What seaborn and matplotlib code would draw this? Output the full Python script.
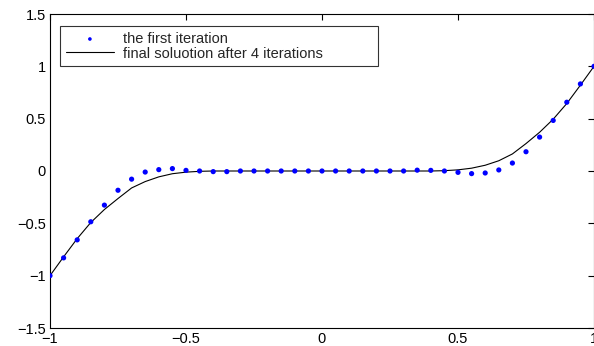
import matplotlib
matplotlib.use("Agg")
import matplotlib.pyplot as plt
import seaborn as sns
import numpy as np
import pandas as pd
from matplotlib.ticker import FuncFormatter

x_vals = [-1.0, -0.95, -0.9, -0.85, -0.8, -0.75, -0.7, -0.65, -0.6, -0.55, -0.5,
          -0.45, -0.4, -0.35, -0.3, -0.25, -0.2, -0.15, -0.1, -0.05, 0.0,
          0.05, 0.1, 0.15, 0.2, 0.25, 0.3, 0.35, 0.4, 0.45, 0.5,
          0.55, 0.6, 0.65, 0.7, 0.75, 0.8, 0.85, 0.9, 0.95, 1.0]

first_iter = [-1.0, -0.83, -0.658, -0.485, -0.326, -0.184, -0.078, -0.01, 0.013, 0.023, 0.006,
              0.0, -0.006, -0.006, 0.0, 0.0, 0.0, 0.0, 0.0, 0.0, 0.0,
              0.0, 0.0, 0.0, 0.0, 0.0, 0.0, 0.008, 0.006, 0.0, -0.013,
              -0.025, -0.019, 0.01, 0.076, 0.184, 0.324, 0.483, 0.657, 0.832, 1.0]

final_sol = [-1.0, -0.82, -0.646, -0.492, -0.368, -0.263, -0.162, -0.101, -0.056, -0.026, -0.011,
             -0.003, 0.0, 0.0, 0.0, 0.0, 0.0, 0.0, 0.0, 0.0, 0.0,
             0.0, 0.0, 0.0, 0.0, 0.0, 0.0, 0.0, 0.0, 0.003, 0.011,
             0.027, 0.055, 0.098, 0.163, 0.262, 0.37, 0.495, 0.645, 0.82, 1.0]

x_ticks = [-1, -0.5, 0, 0.5, 1]
y_ticks = [-1.5, -1, -0.5, 0, 0.5, 1, 1.5]
label_dots = "the first iteration"
label_line = "final soluotion after 4 iterations"

sns.set_style("white")
plt.rcParams['font.family'] = ['Liberation Sans', 'DejaVu Sans']

df = pd.DataFrame({"x": x_vals, "first": first_iter, "final": final_sol})

W, H = 594, 346
ax_l, ax_b, ax_w, ax_h = 50, 18, 544, 314
fig = plt.figure(figsize=(W / 100, H / 100), dpi=100)
ax = fig.add_axes([ax_l / W, ax_b / H, ax_w / W, ax_h / H])

sns.scatterplot(data=df, x="x", y="first", ax=ax, color="blue", s=14,
                edgecolor="none", marker="o", label=label_dots, zorder=3)
sns.lineplot(data=df, x="x", y="final", ax=ax, color="black", lw=0.8,
             label=label_line, zorder=2)

ax.set_xlim(-1, 1)
ax.set_ylim(-1.5, 1.5)
ax.set_xticks(x_ticks)
ax.set_yticks(y_ticks)
fmt = FuncFormatter(lambda v, p: ("%g" % v).replace("-", "\u2212"))
ax.xaxis.set_major_formatter(fmt)
ax.yaxis.set_major_formatter(fmt)
ax.set_xlabel("")
ax.set_ylabel("")
ax.tick_params(direction="in", length=4, width=0.8, top=True, right=True,
               labelsize=10.5, colors="black", pad=3)
for s in ax.spines.values():
    s.set_visible(True)
    s.set_color("black")
    s.set_linewidth(0.8)

# legend box: pixels x 60..378, top at y=26
lx0 = 10 / ax_w
lx1 = 328 / ax_w
ltop = 1 - 12 / ax_h
lh = 37 / ax_h
leg = ax.legend(loc="upper left", bbox_to_anchor=(lx0, ltop - lh, lx1 - lx0, lh),
                mode="expand", frameon=True, fancybox=False, fontsize=10.5,
                borderaxespad=0, handlelength=3.3, handletextpad=0.6,
                borderpad=0.4, labelspacing=0.05, markerscale=0.7)
leg.get_frame().set_edgecolor("black")
leg.get_frame().set_linewidth(0.8)

fig.savefig("out.png", dpi=100)
